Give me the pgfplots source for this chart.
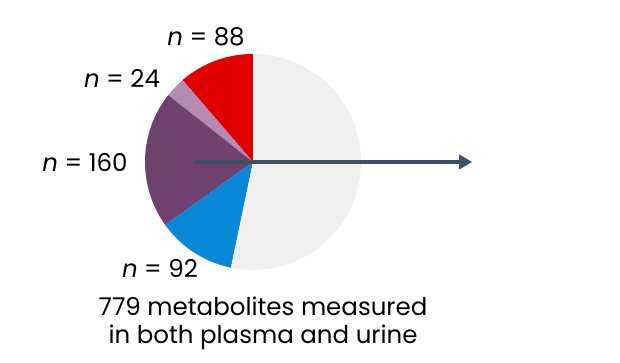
\documentclass[border=0pt]{standalone}
\usepackage{pgfplots}
\pgfplotsset{compat=1.18}
\usetikzlibrary{arrows.meta}
\usepackage{fontspec}
\setmainfont{Poppins}
\definecolor{cgray}{HTML}{EFEFEF}
\definecolor{cred}{HTML}{E10000}
\definecolor{clpur}{HTML}{B48AB5}
\definecolor{cpur}{HTML}{6E416E}
\definecolor{cblue}{HTML}{0A88D8}
\definecolor{carrow}{HTML}{3D4F63}
\begin{document}
\begin{tikzpicture}[x=1pt,y=1pt]
\useasboundingbox (0,0) rectangle (620,363);
% counts: red 88, light purple 24, purple 160, blue 92, gray 415 (total 779)
\begin{axis}[at={(253pt,201pt)}, anchor=center, scale only axis,
  width=216pt, height=216pt, xmin=-1, xmax=1, ymin=-1, ymax=1,
  hide axis, clip=false]
\addplot[draw=none, fill=cred, domain=0:88, samples=40] ({cos(90+x*360/779)},{sin(90+x*360/779)}) -- (axis cs:0,0) -- cycle;
\addplot[draw=none, fill=clpur, domain=88:112, samples=20] ({cos(90+x*360/779)},{sin(90+x*360/779)}) -- (axis cs:0,0) -- cycle;
\addplot[draw=none, fill=cpur, domain=112:272, samples=60] ({cos(90+x*360/779)},{sin(90+x*360/779)}) -- (axis cs:0,0) -- cycle;
\addplot[draw=none, fill=cblue, domain=272:364, samples=40] ({cos(90+x*360/779)},{sin(90+x*360/779)}) -- (axis cs:0,0) -- cycle;
\addplot[draw=none, fill=cgray, domain=364:779, samples=120] ({cos(90+x*360/779)},{sin(90+x*360/779)}) -- (axis cs:0,0) -- cycle;
\draw[carrow, line width=3.6pt, -{Triangle[length=13pt,width=14pt]}] (axis cs:-0.537,0) -- (axis cs:2.03,0);
\end{axis}
\begin{scope}[every node/.style={font=\fontsize{24.5}{29}\selectfont, inner sep=0pt}]
\node at (206,326) {\textit{n} = 88};
\node at (122,285) {\textit{n} = 24};
\node at (85,201) {\textit{n} = 160};
\node at (160,95) {\textit{n} = 92};
\node at (263,57) {779 metabolites measured};
\node at (263,26) {in both plasma and urine};
\end{scope}
\end{tikzpicture}
\end{document}
